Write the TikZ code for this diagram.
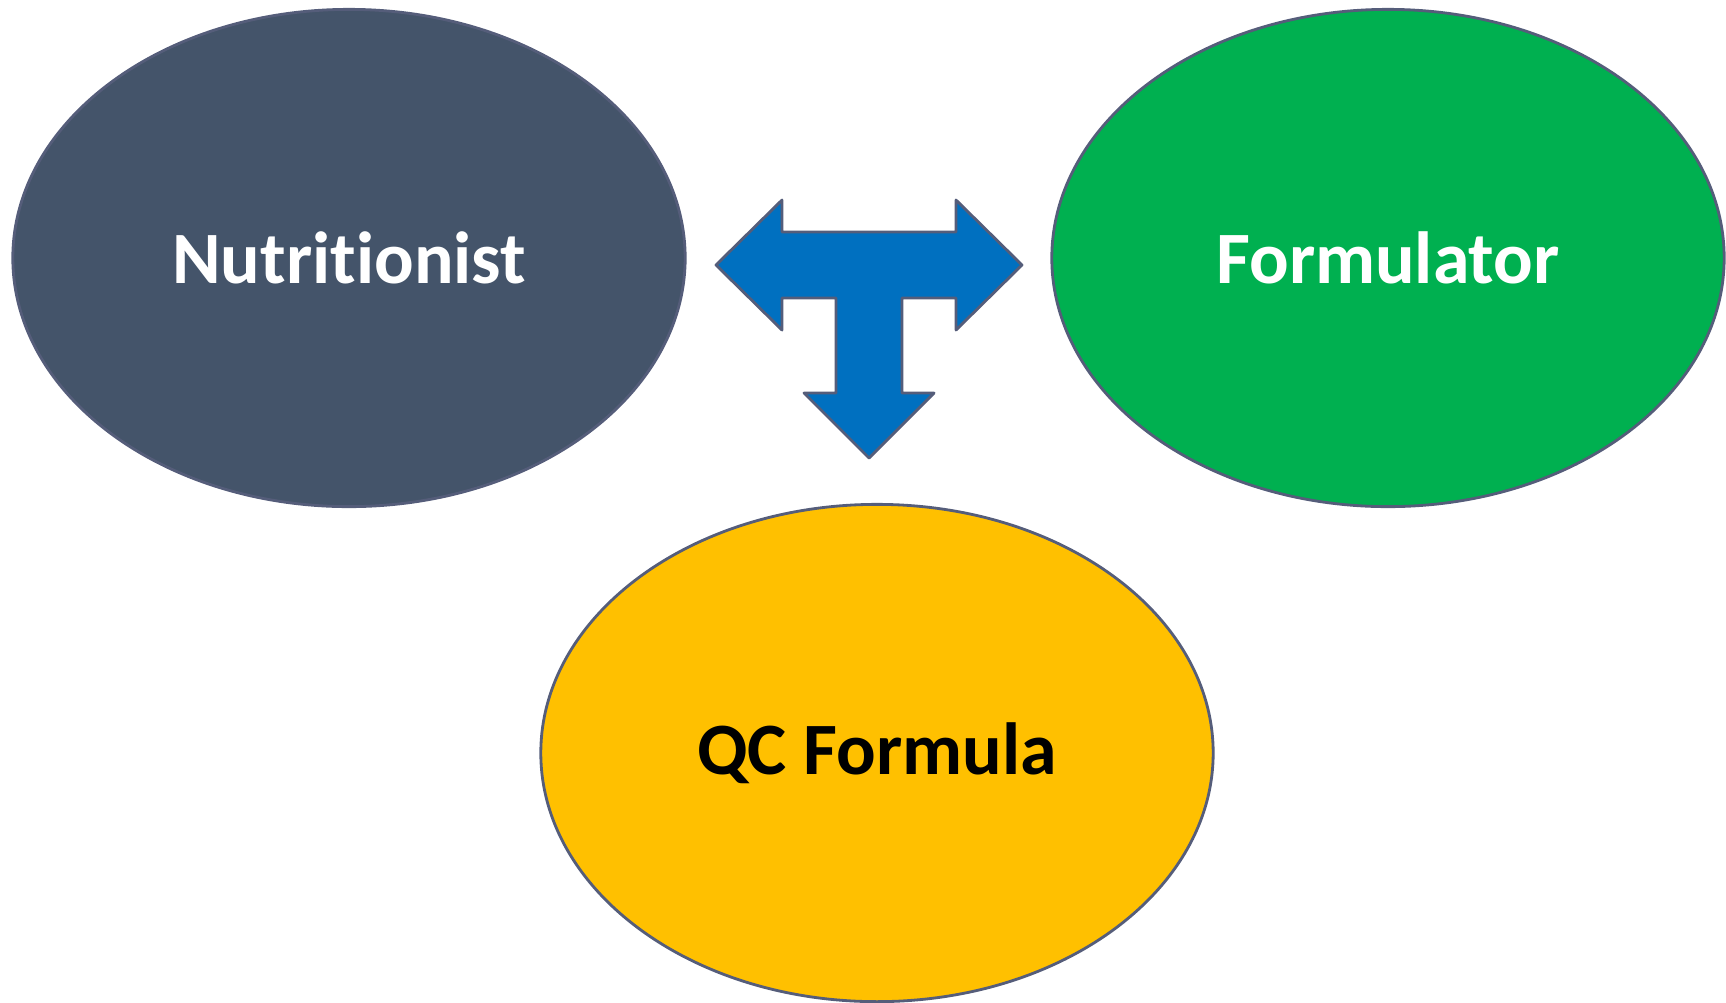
\documentclass[tikz,border=0pt]{standalone}
\usepackage{fontspec}
\setmainfont{Carlito}[Ligatures={NoCommon,NoContextual}]
\usepackage{tikz}
\usetikzlibrary{shapes.geometric}
\definecolor{nutriblue}{HTML}{44546A}
\definecolor{formgreen}{HTML}{00B050}
\definecolor{qcyellow}{HTML}{FFC000}
\definecolor{teeblue}{HTML}{0070C0}
\definecolor{rimgrey}{RGB}{85,93,122}
\tikzset{
	role/.style={ellipse,draw=rimgrey,line width=0.8pt,inner sep=0pt,
		minimum width=6.72cm,minimum height=4.97cm,
		font=\fontsize{21}{25}\selectfont\bfseries}
}

\begin{document}
\begin{tikzpicture}[x=0.01cm,y=-0.01cm]

				\useasboundingbox (0,0) rectangle (1726,1002);

	  			\node[role,fill=nutriblue,text=white] 	(nutri)     	at (349,258) 		{Nutritionist};
				\node[role,fill=formgreen,text=white] 	(form)   	at (1388,258) 		{Formulator};
				\node[role,fill=qcyellow,text=black] 	(qc)   	at (877,753) 		{QC Formula};

%				the three-way arrow between them
				\draw[fill=teeblue,draw=rimgrey,line width=0.8pt,line join=round]
				(716,265) -- (782,200) -- (782,232) -- (956,232) -- (956,200)
				-- (1022,265) -- (956,330) -- (956,298) -- (902,298) -- (902,393)
				-- (934,393) -- (869,458) -- (804,393) -- (836,393) -- (836,298)
				-- (782,298) -- (782,330) -- cycle;

		\end{tikzpicture}
\end{document}
